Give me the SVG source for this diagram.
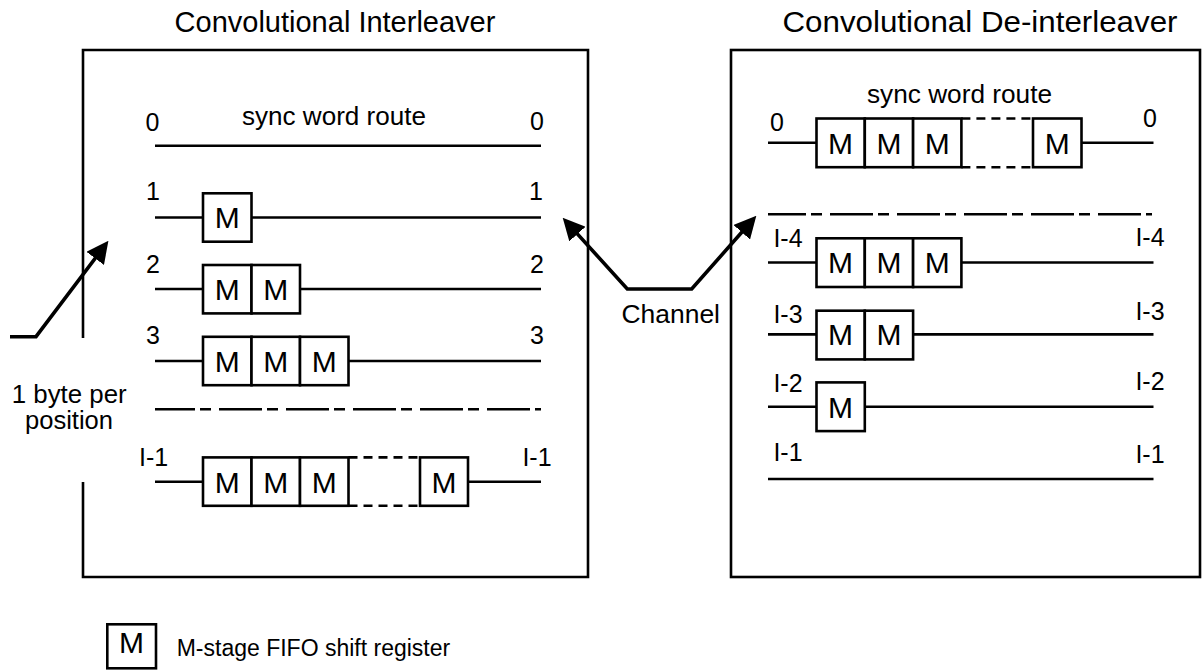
<svg xmlns="http://www.w3.org/2000/svg" width="1203" height="672" viewBox="0 0 1203 672">
<style>
.frame{fill:none;stroke:#000;stroke-width:2.6}
.ln{fill:none;stroke:#000;stroke-width:2.6}
.box{fill:#fff;stroke:#000;stroke-width:2.6}
.sep{fill:none;stroke:#000;stroke-width:2.6;stroke-dasharray:43 5 11 8}
.dsh{fill:none;stroke:#000;stroke-width:2.6;stroke-dasharray:9 6}
.arr{fill:none;stroke:#000;stroke-width:3.6;stroke-linejoin:miter}
text{font-family:"Liberation Sans",Arial,sans-serif;fill:#000}
.lbl{font-size:25px;text-anchor:middle}
.txt{font-size:25px}
.leg{font-size:23px}
.m{font-size:30px;text-anchor:middle}
.title{font-size:29px;text-anchor:middle}
</style>
<defs>
<marker id="ah" viewBox="0 0 22 22" refX="15" refY="11" markerWidth="22" markerHeight="22" markerUnits="userSpaceOnUse" orient="auto-start-reverse">
<path d="M0,0 L22,11 L0,22 z" fill="#000"/>
</marker>
</defs>

<g id="titles">
<text class="title" x="335" y="32">Convolutional Interleaver</text>
<text class="title" x="980" y="32" textLength="395" lengthAdjust="spacingAndGlyphs">Convolutional De-interleaver</text>
</g>

<g id="interleaver">
<path class="frame" d="M83,338 V50 H588 V577 H83 V482"/>
<g id="il-row0">
<line class="ln" x1="155" y1="145.7" x2="541" y2="145.7"/>
<text class="lbl" x="152.5" y="131">0</text>
<text class="lbl" x="537" y="130">0</text>
<text class="txt" x="242" y="125" textLength="184" lengthAdjust="spacingAndGlyphs">sync word route</text>
</g>
<g id="il-row1">
<line class="ln" x1="155" y1="217.5" x2="541" y2="217.5"/>
<rect class="box" x="203" y="193.3" width="48.5" height="48.4"/>
<text class="m" x="227.2" y="228.3">M</text>
<text class="lbl" x="153" y="200">1</text>
<text class="lbl" x="536" y="200">1</text>
</g>
<g id="il-row2">
<line class="ln" x1="155" y1="289" x2="541" y2="289"/>
<rect class="box" x="203" y="265" width="48.5" height="48.4"/>
<rect class="box" x="251.5" y="265" width="48.5" height="48.4"/>
<text class="m" x="227.2" y="299.8">M</text>
<text class="m" x="275.7" y="299.8">M</text>
<text class="lbl" x="153" y="273">2</text>
<text class="lbl" x="537" y="273">2</text>
</g>
<g id="il-row3">
<line class="ln" x1="155" y1="361" x2="541" y2="361"/>
<rect class="box" x="203" y="336.8" width="48.5" height="48.4"/>
<rect class="box" x="251.5" y="336.8" width="48.5" height="48.4"/>
<rect class="box" x="300" y="336.8" width="48.5" height="48.4"/>
<text class="m" x="227.2" y="371.8">M</text>
<text class="m" x="275.7" y="371.8">M</text>
<text class="m" x="324.2" y="371.8">M</text>
<text class="lbl" x="153" y="343.5">3</text>
<text class="lbl" x="537" y="343.5">3</text>
</g>
<line class="sep" x1="155" y1="409.3" x2="541" y2="409.3" stroke-dashoffset="3"/>
<g id="il-rowI1">
<line class="ln" x1="155" y1="481.7" x2="203" y2="481.7"/>
<line class="ln" x1="468" y1="481.7" x2="541" y2="481.7"/>
<rect class="box" x="203" y="457.4" width="48.5" height="48.4"/>
<rect class="box" x="251.5" y="457.4" width="48.5" height="48.4"/>
<rect class="box" x="300" y="457.4" width="48.5" height="48.4"/>
<rect class="box" x="420" y="457.4" width="48" height="48.4"/>
<line class="dsh" x1="348.5" y1="457.4" x2="420" y2="457.4"/>
<line class="dsh" x1="348.5" y1="505.8" x2="420" y2="505.8"/>
<text class="m" x="227.2" y="492.5">M</text>
<text class="m" x="275.7" y="492.5">M</text>
<text class="m" x="324.2" y="492.5">M</text>
<text class="m" x="444" y="492.5">M</text>
<text class="lbl" x="153.6" y="466">I-1</text>
<text class="lbl" x="537" y="466">I-1</text>
</g>
</g>

<g id="deinterleaver">
<rect class="frame" x="731" y="50" width="469" height="527"/>
<g id="dl-row0">
<line class="ln" x1="768" y1="142.8" x2="816.5" y2="142.8"/>
<line class="ln" x1="1081.5" y1="142.8" x2="1153.5" y2="142.8"/>
<rect class="box" x="816.5" y="118.5" width="48.3" height="48.7"/>
<rect class="box" x="864.8" y="118.5" width="48.3" height="48.7"/>
<rect class="box" x="913.1" y="118.5" width="48.3" height="48.7"/>
<rect class="box" x="1033" y="118.5" width="48.5" height="48.7"/>
<line class="dsh" x1="961.4" y1="118.5" x2="1033" y2="118.5"/>
<line class="dsh" x1="961.4" y1="167.2" x2="1033" y2="167.2"/>
<text class="m" x="840.6" y="153.6">M</text>
<text class="m" x="888.9" y="153.6">M</text>
<text class="m" x="937.2" y="153.6">M</text>
<text class="m" x="1057.2" y="153.6">M</text>
<text class="lbl" x="777" y="131">0</text>
<text class="lbl" x="1150" y="127">0</text>
<text class="txt" x="867" y="103" textLength="185" lengthAdjust="spacingAndGlyphs">sync word route</text>
</g>
<line class="sep" x1="768" y1="214.3" x2="1152" y2="214.3" stroke-dashoffset="5"/>
<g id="dl-rowI4">
<line class="ln" x1="768" y1="262.5" x2="1153.5" y2="262.5"/>
<rect class="box" x="816.5" y="238.3" width="48.3" height="48.7"/>
<rect class="box" x="864.8" y="238.3" width="48.3" height="48.7"/>
<rect class="box" x="913.1" y="238.3" width="48.3" height="48.7"/>
<text class="m" x="840.6" y="273.4">M</text>
<text class="m" x="888.9" y="273.4">M</text>
<text class="m" x="937.2" y="273.4">M</text>
<text class="lbl" x="788" y="247">I-4</text>
<text class="lbl" x="1150" y="246">I-4</text>
</g>
<g id="dl-rowI3">
<line class="ln" x1="768" y1="334.4" x2="1153.5" y2="334.4"/>
<rect class="box" x="816.5" y="310.7" width="48.3" height="48.7"/>
<rect class="box" x="864.8" y="310.7" width="48.3" height="48.7"/>
<text class="m" x="840.6" y="345.4">M</text>
<text class="m" x="888.9" y="345.4">M</text>
<text class="lbl" x="788" y="322.7">I-3</text>
<text class="lbl" x="1150" y="319.5">I-3</text>
</g>
<g id="dl-rowI2">
<line class="ln" x1="768" y1="406.7" x2="1153.5" y2="406.7"/>
<rect class="box" x="816.5" y="382.4" width="48.3" height="48.7"/>
<text class="m" x="840.6" y="417.7">M</text>
<text class="lbl" x="788" y="391.7">I-2</text>
<text class="lbl" x="1150" y="389.5">I-2</text>
</g>
<g id="dl-rowI1">
<line class="ln" x1="768" y1="479" x2="1153.5" y2="479"/>
<text class="lbl" x="788" y="461">I-1</text>
<text class="lbl" x="1150" y="463">I-1</text>
</g>
</g>

<g id="connectors">
<polyline class="arr" points="10,336.7 36,336.7 104.2,246.4" marker-end="url(#ah)"/>
<polyline class="arr" points="567.4,222.9 627.3,289 691.7,289 751.7,221" marker-start="url(#ah)" marker-end="url(#ah)"/>
</g>

<g id="labels">
<text class="txt" x="11.7" y="403" textLength="115" lengthAdjust="spacingAndGlyphs">1 byte per</text>
<text class="txt" x="25" y="429" textLength="88" lengthAdjust="spacingAndGlyphs">position</text>
<text class="txt" x="621.5" y="322.7" textLength="98.5" lengthAdjust="spacingAndGlyphs">Channel</text>
</g>

<g id="legend">
<rect class="box" x="107.3" y="624.3" width="48.7" height="44"/>
<text class="m" x="131.6" y="652.5">M</text>
<text class="leg" x="176.7" y="655.5">M-stage FIFO shift register</text>
</g>
</svg>
